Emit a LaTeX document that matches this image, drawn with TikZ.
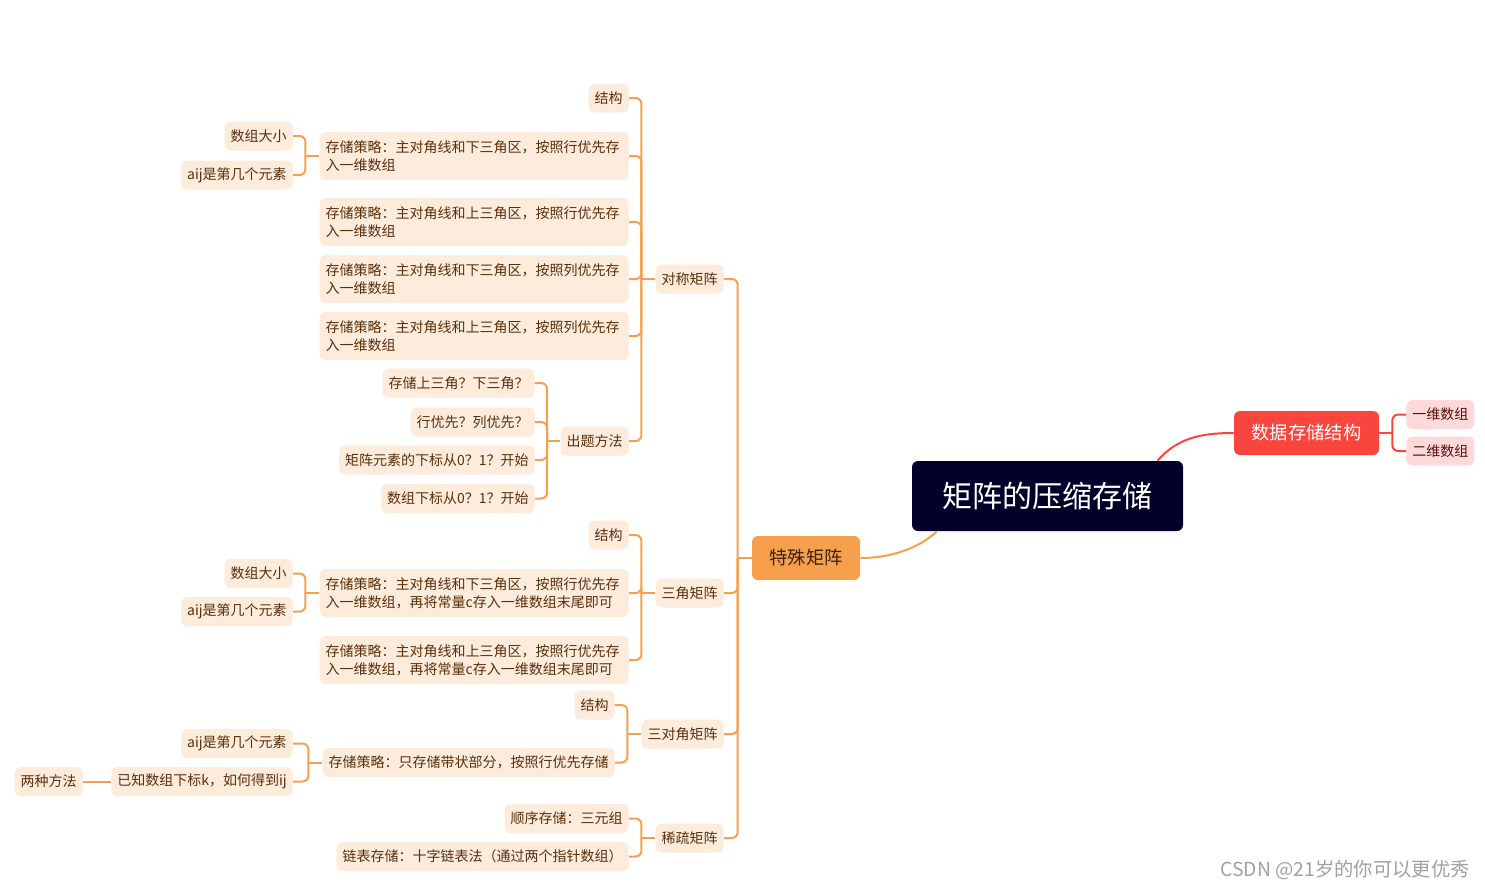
\documentclass[tikz,border=0pt]{standalone}
\usepackage{fontspec}
\setmainfont{Noto Sans CJK SC}
\usetikzlibrary{calc}
\definecolor{nodefill}{HTML}{FDEBDC}
\definecolor{nodetext}{HTML}{5A300C}
\definecolor{linecol}{HTML}{F6A04F}
\definecolor{rootfill}{HTML}{00002A}
\definecolor{redfill}{HTML}{F8453D}
\definecolor{pinkfill}{HTML}{FDD9D9}
\definecolor{pinktext}{HTML}{5C0F0F}
\definecolor{tsfill}{HTML}{F6A04E}
\definecolor{tstext}{HTML}{3B2108}
\definecolor{wmark}{HTML}{A0A0A0}
\begin{document}
\begin{tikzpicture}[x=0.75pt,y=-0.75pt,
  leaf/.style={fill=nodefill, text=nodetext, rounded corners=4.5pt, inner xsep=4.5pt, inner ysep=0pt,
    minimum height=21.75pt, font=\fontsize{10.5}{13.5}\selectfont},
  longleaf/.style={leaf, text width=222.75pt, align=left, minimum height=36pt},
  pinkleaf/.style={leaf, fill=pinkfill, text=pinktext},
  conn/.style={draw=linecol, line width=1.5pt, rounded corners=4.5pt},
  rconn/.style={draw=redfill, line width=1.5pt, rounded corners=4.5pt},
]
\path[use as bounding box] (0,0) rectangle (1485,890);

% root and main branches
\node[fill=rootfill, text=white, rounded corners=4.5pt, minimum width=203.25pt, minimum height=52.5pt,
  font=\fontsize{22.5}{26}\selectfont] (root) at (1047.5,496) {矩阵的压缩存储};
\node[fill=redfill, text=white, rounded corners=4.5pt, minimum width=108.75pt, minimum height=33pt,
  font=\fontsize{13.7}{16}\selectfont] (ds) at (1306.5,433) {数据存储结构};
\node[pinkleaf, anchor=west] (ds1) at (1406,414.5) {一维数组};
\node[pinkleaf, anchor=west] (ds2) at (1406,451) {二维数组};
\node[fill=tsfill, text=tstext, rounded corners=4.5pt, minimum width=81pt, minimum height=33pt,
  font=\fontsize{13.7}{16}\selectfont] (ts) at (806,558) {特殊矩阵};

% level 2
\node[leaf, anchor=east] (dc) at (724,279) {对称矩阵};
\node[leaf, anchor=east] (sj) at (724,593) {三角矩阵};
\node[leaf, anchor=east] (sdj) at (724,734) {三对角矩阵};
\node[leaf, anchor=east] (xs) at (724,838) {稀疏矩阵};

% symmetric
\node[leaf, anchor=east] (dc1) at (629,98) {结构};
\node[longleaf, anchor=east] (dc2) at (629,156) {存储策略：主对角线和下三角区，按照行优先存\\入一维数组};
\node[longleaf, anchor=east] (dc3) at (629,222) {存储策略：主对角线和上三角区，按照行优先存\\入一维数组};
\node[longleaf, anchor=east] (dc4) at (629,279) {存储策略：主对角线和下三角区，按照列优先存\\入一维数组};
\node[longleaf, anchor=east] (dc5) at (629,336) {存储策略：主对角线和上三角区，按照列优先存\\入一维数组};
\node[leaf, anchor=east] (dc6) at (629,441) {出题方法};
\node[leaf, anchor=east] (dc2a) at (293,136) {数组大小};
\node[leaf, anchor=east] (dc2b) at (293,175) {aij是第几个元素};
\node[leaf, anchor=east] (q1) at (535,383) {存储上三角？下三角？};
\node[leaf, anchor=east] (q2) at (535,422) {行优先？列优先？};
\node[leaf, anchor=east] (q3) at (535,460) {矩阵元素的下标从0？1？开始};
\node[leaf, anchor=east] (q4) at (535,498.5) {数组下标从0？1？开始};

% triangular
\node[leaf, anchor=east] (sj1) at (629,535) {结构};
\node[longleaf, anchor=east] (sj2) at (629,593) {存储策略：主对角线和下三角区，按照行优先存\\入一维数组，再将常量c存入一维数组末尾即可};
\node[longleaf, anchor=east] (sj3) at (629,660) {存储策略：主对角线和上三角区，按照行优先存\\入一维数组，再将常量c存入一维数组末尾即可};
\node[leaf, anchor=east] (sj2a) at (293,573.5) {数组大小};
\node[leaf, anchor=east] (sj2b) at (293,611.5) {aij是第几个元素};

% tridiagonal
\node[leaf, anchor=east] (sdj1) at (615,705) {结构};
\node[leaf, anchor=east] (sdj2) at (615,762.5) {存储策略：只存储带状部分，按照行优先存储};
\node[leaf, anchor=east] (sdj2a) at (293,743.5) {aij是第几个元素};
\node[leaf, anchor=east] (sdj2b) at (293,781.5) {已知数组下标k，如何得到ij};
\node[leaf, anchor=east] (lz) at (83,781.5) {两种方法};

% sparse
\node[leaf, anchor=east] (xs1) at (629,818.5) {顺序存储：三元组};
\node[leaf, anchor=east] (xs2) at (629,856.5) {链表存储：十字链表法（通过两个指针数组）};

% junctions
\coordinate (j-ds) at ([xshift=9.75pt]ds.east);
\coordinate (j-ts) at ([xshift=-10.5pt]ts.west);
\coordinate (j-dc) at ([xshift=-10.5pt]dc.west);
\coordinate (j-dc2) at ([xshift=-10.5pt]dc2.west);
\coordinate (j-dc6) at ([xshift=-10pt]dc6.west);
\coordinate (j-sj) at ([xshift=-10.5pt]sj.west);
\coordinate (j-sj2) at ([xshift=-10.5pt]sj2.west);
\coordinate (j-sdj) at ([xshift=-10.5pt]sdj.west);
\coordinate (j-sdj2) at ([xshift=-10.5pt]sdj2.west);
\coordinate (j-xs) at ([xshift=-10.5pt]xs.west);

% curved main connectors
\draw[draw=redfill, line width=1.5pt] ([xshift=-19.5pt]root.north east) .. controls +(20,-22) and +(-35,0) .. (ds.west);
\draw[draw=linecol, line width=1.5pt] (ts.east) .. controls +(38,0) and +(-12,12) .. ([xshift=18.75pt]root.south west);

% red bracket
\draw[rconn] (ds1.west) -| (j-ds);
\draw[rconn] (ds2.west) -| (j-ds);
\draw[rconn] (ds.east) -- (j-ds);

% trunk
\foreach \c in {dc,sj,sdj,xs} \draw[conn] (\c.east) -| (j-ts);
\draw[conn] (ts.west) -- (j-ts);

\foreach \c in {dc1,dc2,dc3,dc4,dc5,dc6} \draw[conn] (\c.east) -| (j-dc);
\draw[conn] (dc.west) -- (j-dc);
\foreach \c in {dc2a,dc2b} \draw[conn] (\c.east) -| (j-dc2);
\draw[conn] (dc2.west) -- (j-dc2);
\foreach \c in {q1,q2,q3,q4} \draw[conn] (\c.east) -| (j-dc6);
\draw[conn] (dc6.west) -- (j-dc6);

\foreach \c in {sj1,sj2,sj3} \draw[conn] (\c.east) -| (j-sj);
\draw[conn] (sj.west) -- (j-sj);
\foreach \c in {sj2a,sj2b} \draw[conn] (\c.east) -| (j-sj2);
\draw[conn] (sj2.west) -- (j-sj2);

\foreach \c in {sdj1,sdj2} \draw[conn] (\c.east) -| (j-sdj);
\draw[conn] (sdj.west) -- (j-sdj);
\foreach \c in {sdj2a,sdj2b} \draw[conn] (\c.east) -| (j-sdj2);
\draw[conn] (sdj2.west) -- (j-sdj2);
\draw[conn] (lz.east) -- (sdj2b.west);

\foreach \c in {xs1,xs2} \draw[conn] (\c.east) -| (j-xs);
\draw[conn] (xs.west) -- (j-xs);

% watermark
\node[text=wmark, anchor=east, font=\fontsize{14.5}{16}\selectfont, inner sep=0pt] (wm) at (1470,870) {CSDN @21岁的你可以更优秀};
\end{tikzpicture}
\end{document}
